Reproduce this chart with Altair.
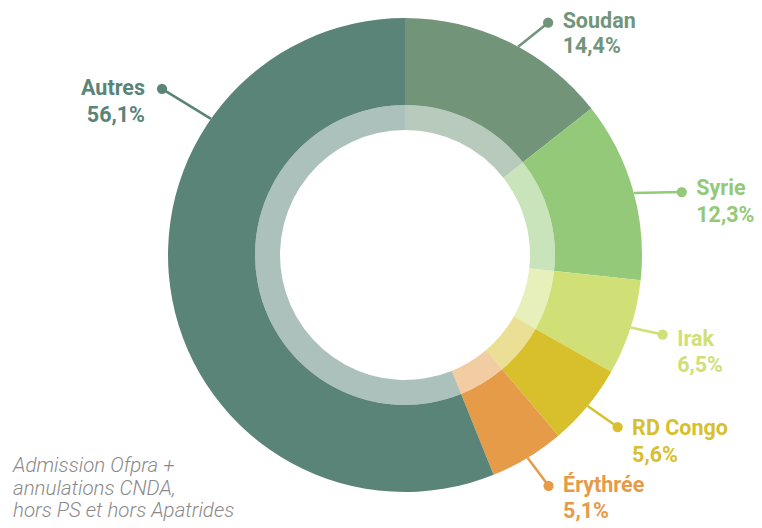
import altair as alt
import pandas as pd
import numpy as np

# ---- data ----
countries = ["Soudan", "Syrie", "Irak", "RD Congo", "Érythrée", "Autres"]
shares = [14.4, 12.3, 6.5, 5.6, 5.1, 56.1]
share_labels = ["14,4%", "12,3%", "6,5%", "5,6%", "5,1%", "56,1%"]
colors = ["#72957a", "#93c978", "#d0e077", "#d8c02c", "#e69b48", "#5a8477"]
footnote = ["Admission Ofpra +", "annulations CNDA,", "hors PS et hors Apatrides"]

# ---- annotation layout (not data) ----
anchor_frac = [0.55, 0.52, 0.5, 0.5, 0.5, 0.728]   # where along the slice the leader starts
leader_dx = [30, 48, 32, 30, 21, -49]              # leader length (screen px)
leader_dy = [-24, -1, 7, 21, 28, -30]
name_dy = [-1, -3, 5, 2, 0, 0.5]
value_gap = [25.5, 26.5, 26.5, 26.5, 26.5, 26.5]

W, H = 746, 520
CX, CY = 397, 247
R_OUT, R_MID, R_IN = 237, 150, 125

df = pd.DataFrame({
    "country": countries,
    "share": shares,
    "label": share_labels,
    "idx": list(range(len(countries))),
})
total = df["share"].sum()
start = df["share"].cumsum() - df["share"]
frac = (start + np.array(anchor_frac) * df["share"]) / total
ang = frac * 2 * np.pi
df["ax"] = R_OUT * np.sin(ang)
df["ay"] = R_OUT * np.cos(ang)
df["dx"] = df["ax"] + np.array(leader_dx)
df["dy"] = df["ay"] - np.array(leader_dy)
right_side = df["dx"] > 0
df["tx"] = np.where(right_side, df["dx"] + 14.5, df["dx"] - 17)
df["ny"] = df["dy"] - np.array(name_dy)
df["vy"] = df["ny"] - np.array(value_gap)
df["side"] = np.where(right_side, "R", "L")

xs = alt.Scale(domain=[-CX, W - CX], nice=False, zero=False)
ys = alt.Scale(domain=[-(H - CY), CY], nice=False, zero=False)
cscale = alt.Scale(domain=countries, range=colors)

base = alt.Chart(df)

outer = base.mark_arc(outerRadius=R_OUT, innerRadius=R_MID, stroke=None).encode(
    theta=alt.Theta("share:Q", stack=True),
    order=alt.Order("idx:Q"),
    color=alt.Color("country:N", scale=cscale, legend=None),
    x=alt.value(CX),
    y=alt.value(CY),
)
inner = base.mark_arc(outerRadius=R_MID, innerRadius=R_IN, opacity=0.5, stroke=None).encode(
    theta=alt.Theta("share:Q", stack=True),
    order=alt.Order("idx:Q"),
    color=alt.Color("country:N", scale=cscale, legend=None),
    x=alt.value(CX),
    y=alt.value(CY),
)

leaders = base.mark_rule(strokeWidth=2.5).encode(
    x=alt.X("ax:Q", scale=xs, axis=None),
    y=alt.Y("ay:Q", scale=ys, axis=None),
    x2="dx:Q",
    y2="dy:Q",
    color=alt.Color("country:N", scale=cscale, legend=None),
)
dots = base.mark_circle(size=105, opacity=1).encode(
    x=alt.X("dx:Q", scale=xs, axis=None),
    y=alt.Y("dy:Q", scale=ys, axis=None),
    color=alt.Color("country:N", scale=cscale, legend=None),
)

def text_layer(field_y, field_text, side, align):
    return base.transform_filter(alt.datum.side == side).mark_text(
        font="Roboto", fontSize=21.5, fontWeight="bold", align=align, baseline="middle"
    ).encode(
        x=alt.X("tx:Q", scale=xs, axis=None),
        y=alt.Y(f"{field_y}:Q", scale=ys, axis=None),
        text=f"{field_text}:N",
        color=alt.Color("country:N", scale=cscale, legend=None),
    )

names_r = text_layer("ny", "country", "R", "left")
vals_r = text_layer("vy", "label", "R", "left")
names_l = text_layer("ny", "country", "L", "right")
vals_l = text_layer("vy", "label", "L", "right")

note = alt.Chart(pd.DataFrame({"t": [0]})).mark_text(
    text=footnote, font="Roboto", fontSize=20.5, fontStyle="italic", fontWeight=300,
    color="#8a8a8a", align="left", baseline="alphabetic", lineHeight=22.5,
).encode(x=alt.value(5), y=alt.value(464))

chart = alt.layer(outer, inner, leaders, dots, names_r, vals_r, names_l, vals_l, note).properties(
    width=W, height=H, padding=0, autosize=alt.AutoSizeParams(type="none"), background="white"
).configure_view(stroke=None)

chart.save("out.html", embed_options={"renderer": "svg", "actions": False})
